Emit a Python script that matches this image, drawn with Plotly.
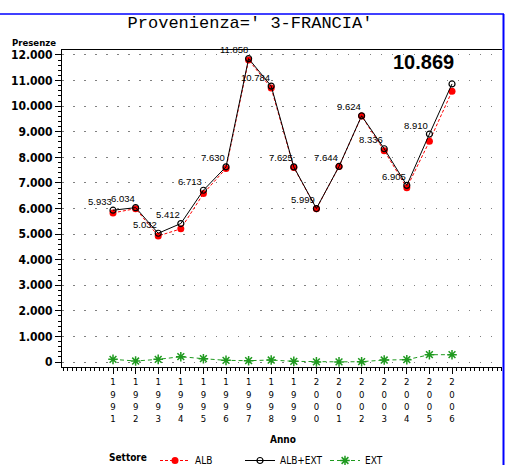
import plotly.graph_objects as go

years = list(range(1991, 2007))
alb_ext = [5933, 6034, 5032, 5412, 6713, 7630, 11858, 10784, 7625, 5999, 7644, 9624, 8336, 6905, 8910, 10869]
ext = [104, 39, 104, 208, 130, 65, 52, 78, 26, 5, 5, 13, 78, 91, 286, 286]
alb = [5829, 5995, 4928, 5204, 6583, 7565, 11806, 10706, 7599, 5994, 7639, 9611, 8258, 6814, 8624, 10583]
y_ticks = list(range(0, 13000, 1000))

def fmt(v):
    return f"{v:,}".replace(",", ".")

tick_text = ["<br>".join(str(y)) for y in years]

W, H = 508, 465
L, R, T, B = 62, 6, 50, 98
pw = W - L - R
ph = H - T - B

def px_x(p):
    return (p - L) / pw

def px_y(p):
    return (H - B - p) / ph

cond = "DejaVu Sans Condensed, Liberation Sans Narrow, sans-serif"
arial = "Liberation Sans, Arial, sans-serif"

fig = go.Figure()
fig.add_trace(go.Scatter(
    x=years, y=alb, name="ALB", mode="lines+markers",
    line=dict(color="#ff0000", width=1, dash="3px,2px"),
    marker=dict(symbol="circle", size=7, color="#ff0000"),
))
fig.add_trace(go.Scatter(
    x=years, y=alb_ext, name="ALB+EXT", mode="lines+markers",
    line=dict(color="#000000", width=1),
    marker=dict(symbol="circle-open", size=6, color="#000000", line=dict(width=1.2)),
))
fig.add_trace(go.Scatter(
    x=years, y=ext, name="EXT", mode="lines+markers",
    line=dict(color="#1f9a1f", width=1, dash="4px,3px"),
    marker=dict(symbol="asterisk-open", size=8, color="#1f9a1f", line=dict(width=1.5, color="#1f9a1f")),
))

annotations = []
for yr, v in zip(years[:-1], alb_ext[:-1]):
    annotations.append(dict(
        x=yr, y=v, xref="x", yref="y", text=fmt(v), showarrow=False,
        xanchor="right", yanchor="middle", yshift=9, xshift=1,
        font=dict(family=arial, size=9.5, color="black"),
    ))
annotations.append(dict(
    x=px_x(423), y=px_y(62), xref="paper", yref="paper", text=fmt(alb_ext[-1]),
    showarrow=False, xanchor="center", yanchor="middle",
    font=dict(family=arial, size=20, color="black", weight="bold"),
))
annotations.append(dict(
    x=px_x(58), y=px_y(43), xref="paper", yref="paper", text="Presenze",
    showarrow=False, xanchor="right", yanchor="middle",
    font=dict(family=cond, size=9.5, color="black", weight="bold"),
))
annotations.append(dict(
    x=px_x(283), y=px_y(439), xref="paper", yref="paper", text="Anno",
    showarrow=False, xanchor="center", yanchor="middle",
    font=dict(family=cond, size=10, color="black", weight="bold"),
))
annotations.append(dict(
    x=px_x(107), y=px_y(457), xref="paper", yref="paper", text="Settore",
    showarrow=False, xanchor="left", yanchor="middle",
    font=dict(family=cond, size=10, color="black", weight="bold"),
))

shapes = [
    dict(type="line", xref="paper", yref="paper", x0=px_x(0), x1=px_x(504),
         y0=px_y(14), y1=px_y(14), line=dict(color="#0000ff", width=1.5)),
    dict(type="line", xref="paper", yref="paper", x0=px_x(503.5), x1=px_x(503.5),
         y0=px_y(14), y1=px_y(470), line=dict(color="#0000ff", width=2)),
]

fig.update_layout(
    width=W, height=H,
    margin=dict(l=L, r=R, t=T, b=B, autoexpand=False),
    paper_bgcolor="white", plot_bgcolor="white",
    separators=",.",
    title=dict(text="Provenienza=' 3-FRANCIA'", x=250 / W, xanchor="center",
               y=1 - 22 / H, yanchor="middle", yref="container",
               font=dict(family="Liberation Mono, DejaVu Sans Mono, monospace", size=17, color="black")),
    annotations=annotations,
    shapes=shapes,
    showlegend=True,
    legend=dict(orientation="h", x=px_x(155), y=px_y(446), xanchor="left", yanchor="top",
                font=dict(family=cond, size=10, color="black"),
                entrywidth=40, entrywidthmode="pixels", bgcolor="rgba(0,0,0,0)",
                itemwidth=30, tracegroupgap=0),
)

fig.update_xaxes(
    range=[1988.743, 2008.212], tickmode="array", tickvals=years, ticktext=tick_text,
    showline=True, linecolor="black", linewidth=1, mirror=True,
    ticks="outside", ticklen=6, tickcolor="black", showgrid=False, zeroline=False,
    tickfont=dict(family=cond, size=9.5, color="black"),
    minor=dict(dtick=0.2, tick0=1991, ticks="outside", ticklen=3, tickcolor="black", showgrid=False),
)
fig.update_yaxes(
    range=[-195, 12195], tickmode="array", tickvals=y_ticks, ticktext=[fmt(v) for v in y_ticks],
    showline=True, linecolor="black", linewidth=1,
    ticks="outside", ticklen=6, tickcolor="black",
    showgrid=True, gridcolor="#808080", gridwidth=1.3, griddash="1.5px,9.5px",
    zeroline=False,
    tickfont=dict(family=cond, size=12, color="black", weight="bold"),
    minor=dict(dtick=200, tick0=0, ticks="outside", ticklen=3, tickcolor="black", showgrid=False),
)

fig.write_html("out.html", config={"displayModeBar": False},
               post_script="document.body.style.margin='0';document.body.style.overflow='hidden';")
